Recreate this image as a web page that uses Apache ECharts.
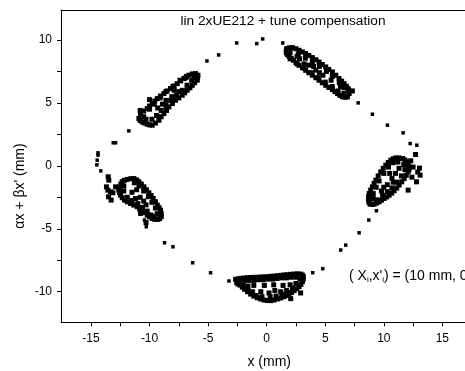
<!DOCTYPE html>
<html>
<head>
<meta charset="utf-8">
<script src="https://cdn.jsdelivr.net/npm/echarts@6/dist/echarts.min.js"></script>
<style>html,body{margin:0;padding:0;background:#fff;overflow:hidden}#c{width:465px;height:371px}</style>
</head>
<body>
<div id="c"></div>
<script>
// ---- data ----
const xMajorTicks = [-15, -10, -5, 0, 5, 10, 15];
const xMinorTicks = [-12.5, -7.5, -2.5, 2.5, 7.5, 12.5];
const yMajorTicks = [-10, -5, 0, 5, 10];
const yMinorTicks = [-7.5, -2.5, 2.5, 7.5];

const sparsePoints = [
  [-2.56,9.76],[-0.85,9.71],[-0.34,10.08],[1.37,9.76],[-4.10,8.81],[-5.10,8.33],
  [-11.77,2.78],[-13.1,1.83],[-12.9,1.83],[-14.4,1.03],[-14.4,0.85],[-14.47,0.45],
  [-14.5,0.08],[-14.16,-0.40],[7.81,5.0],[9.03,4.1],[10.31,3.23],[11.65,2.62],
  [12.25,1.77],[12.82,1.64],[9.37,-3.57],[8.72,-4.31],[7.89,-5.32],[6.75,-6.30],
  [6.32,-6.69],[4.79,-8.17],[3.93,-8.49],[-3.22,-9.15],[-4.79,-8.49],[-6.32,-7.70],
  [-8.0,-6.43],[-8.72,-6.11],[-10.28,-4.84],[-10.43,-4.31]
];

const islandNW = [
  [-10.91,3.76],[-10.77,4.15],[-10.20,4.55],[-9.77,4.95],[-9.34,5.34],[-8.77,5.74],
  [-8.21,6.14],[-7.64,6.53],[-7.07,6.93],[-6.64,7.20],[-6.07,7.33],[-5.87,7.20],
  [-5.93,6.80],[-6.35,6.40],[-6.78,6.01],[-7.21,5.61],[-7.78,5.21],[-8.35,4.68],
  [-8.77,4.15],[-9.20,3.62],[-9.77,3.23],[-10.20,3.31],[-10.63,3.49],
  [-10.5,4.35],[-10.0,4.75],[-9.55,5.15],[-9.05,5.55],[-8.5,5.95],[-7.9,6.35],[-7.35,6.75],
  [-6.85,7.1],[-6.35,7.3],[-5.9,7.0],[-6.15,6.6],[-6.55,6.2],[-7.0,5.8],[-7.5,5.4],
  [-8.05,4.95],[-8.55,4.4],[-9.0,3.9],[-9.5,3.4],[-10.0,3.25],[-10.45,3.4],[-10.8,3.6],
  [-10.3,3.7],[-9.8,3.7],[-9.4,4.0],[-9.0,4.4],[-8.6,4.8],[-8.2,5.2],[-7.7,5.6],
  [-7.2,6.0],[-6.8,6.4],[-6.4,6.8],[-6.2,7.0],
  [-10.5,3.9],[-10.0,4.5],[-9.6,4.9],[-9.1,5.4],[-8.6,5.9],[-8.0,6.3],[-7.4,6.8],[-6.9,7.0],
  [-8.6,5.2],[-8.1,5.5],[-7.5,5.9],[-8.9,4.9],[-9.3,4.6],[-10.0,5.26],[-10.8,4.4],[-7.9,6.0]
];

const islandNE = [
  [1.71,9.31],[2.19,9.39],[2.76,9.18],[3.33,8.92],[3.90,8.60],[4.47,8.25],[5.04,7.86],
  [5.61,7.46],[6.18,6.93],[6.61,6.53],[6.95,6.14],[7.04,5.74],[6.89,5.48],[6.47,5.48],
  [6.04,5.74],[5.61,6.06],[5.04,6.40],[4.47,6.80],[3.90,7.20],[3.33,7.59],[2.76,7.99],
  [2.28,8.39],[1.91,8.70],[1.68,8.97],
  [1.95,9.38],[2.5,9.3],[3.05,9.05],[3.6,8.77],[4.2,8.43],[4.75,8.05],[5.3,7.66],[5.9,7.2],
  [6.4,6.73],[6.8,6.33],[7.02,5.95],[6.7,5.45],[6.25,5.6],[5.83,5.9],[5.3,6.23],[4.75,6.6],
  [4.2,7.0],[3.6,7.4],[3.05,7.8],[2.5,8.2],[2.1,8.55],[1.78,8.84],[1.68,9.15],
  [2.0,9.0],[2.7,8.85],[3.3,8.55],[3.9,8.25],[4.5,7.9],[5.1,7.5],[5.6,7.1],[6.2,6.6],[6.6,6.2],
  [2.0,8.5],[2.6,8.1],[3.2,7.75],[3.8,7.4],[4.4,7.0],[5.0,6.65],[5.6,6.3],[6.1,5.95],[6.6,5.75],
  [2.8,8.5],[3.6,8.0],[4.2,7.6],[4.8,7.2],[3.2,8.1],[4.5,7.4],[5.5,6.8],[6.3,6.3],[4.0,7.9],[2.6,8.7],
  [7.32,5.95]
];

const islandW = [
  [-12.54,-1.67],[-12.34,-1.27],[-11.91,-1.08],[-11.34,-1.01],[-10.91,-1.27],[-10.48,-1.67],
  [-10.06,-2.14],[-9.69,-2.59],[-9.34,-3.12],[-9.06,-3.52],[-9.00,-4.05],[-9.34,-4.26],
  [-9.77,-4.18],[-10.20,-3.92],[-10.63,-3.52],[-11.05,-3.25],[-11.62,-2.99],[-12.14,-2.72],
  [-12.48,-2.33],[-12.62,-1.93],
  [-12.45,-1.45],[-12.15,-1.15],[-11.6,-1.02],[-11.1,-1.12],[-10.7,-1.45],[-10.27,-1.9],
  [-9.87,-2.36],[-9.5,-2.85],[-9.2,-3.32],[-9.0,-3.8],[-9.15,-4.2],[-9.55,-4.25],[-10.0,-4.05],
  [-10.4,-3.72],[-10.85,-3.38],[-11.35,-3.12],[-11.9,-2.86],[-12.33,-2.53],[-12.57,-2.12],[-12.6,-1.8],
  [-11.3,-1.35],[-10.9,-1.6],[-10.5,-2.0],[-10.1,-2.45],[-9.8,-2.9],[-9.5,-3.35],[-9.35,-3.8],[-9.6,-4.0],
  [-12.2,-1.6],[-12.2,-2.0],[-11.9,-2.5],[-11.5,-2.75],[-11.0,-3.0],[-10.6,-3.3],[-10.2,-3.6],[-9.9,-3.9],
  [-11.5,-2.1],[-11.1,-1.9],[-10.8,-2.5],[-11.2,-2.6],[-10.5,-2.8],[-10.3,-3.1],[-10.8,-3.5],
  [-13.53,-0.87],[-13.48,-1.14],[-13.68,-1.67],[-13.56,-1.93],[-13.33,-2.06],[-13.13,-2.14],
  [-13.5,-2.46],[-13.28,-2.72],[-12.9,-1.67],[-10.77,-3.78],[-10.3,-4.5]
];

const islandE = [
  [8.69,-2.72],[8.75,-2.20],[9.03,-1.67],[9.32,-1.14],[9.74,-0.48],[10.17,0.05],[10.60,0.45],
  [11.03,0.63],[11.60,0.58],[11.97,0.32],[12.17,-0.08],[12.08,-0.48],[11.74,-1.01],[11.31,-1.53],
  [10.88,-1.98],[10.46,-2.33],[10.03,-2.59],[9.60,-2.86],[9.17,-3.04],[8.83,-3.04],
  [8.7,-2.46],[8.88,-1.93],[9.17,-1.4],[9.52,-0.8],[9.95,-0.2],[10.38,0.27],[10.8,0.56],
  [11.3,0.63],[11.8,0.47],[12.08,0.12],[12.15,-0.28],[11.92,-0.75],[11.53,-1.27],[11.1,-1.76],
  [10.67,-2.17],[10.25,-2.47],[9.8,-2.73],[9.38,-2.96],[9.0,-3.06],[8.74,-2.9],
  [9.1,-2.6],[9.1,-2.2],[9.35,-1.7],[9.6,-1.2],[10.0,-0.6],[10.4,-0.1],[10.8,0.25],[11.2,0.3],
  [9.4,-2.7],[9.9,-2.35],[10.3,-2.05],[10.7,-1.75],[11.1,-1.3],[11.5,-0.8],[11.8,-0.3],[11.7,0.1],
  [10.3,-1.5],[10.7,-1.0],[11.0,-0.6],[10.5,-0.6],[10.0,-1.7],[10.8,-1.3],[9.8,-2.0],[11.3,-0.2],
  [12.71,0.9],[13.05,-0.18],[12.9,-0.5],[13.1,-0.74],[12.79,-1.27],[12.4,-0.9],[12.08,-1.93],
  [12.5,-0.1],[12.3,0.4]
];

const islandS = [
  [-2.65,-9.02],[-2.22,-8.94],[-1.65,-8.89],[-1.08,-8.86],[-0.51,-8.84],[0.06,-8.81],[0.63,-8.76],
  [1.20,-8.70],[1.77,-8.65],[2.34,-8.60],[2.91,-8.60],[3.13,-8.81],[3.05,-9.21],[2.76,-9.60],
  [2.34,-9.92],[1.91,-10.19],[1.48,-10.40],[0.91,-10.58],[0.34,-10.71],[-0.23,-10.66],
  [-0.80,-10.48],[-1.37,-10.19],[-1.88,-9.81],[-2.28,-9.47],[-2.56,-9.29],
  [-2.45,-8.98],[-1.93,-8.91],[-1.36,-8.87],[-0.8,-8.85],[-0.22,-8.82],[0.35,-8.78],[0.92,-8.73],
  [1.49,-8.67],[2.05,-8.62],[2.62,-8.58],[3.05,-8.68],[3.12,-9.0],[2.92,-9.42],[2.57,-9.77],
  [2.12,-10.06],[1.7,-10.3],[1.2,-10.5],[0.62,-10.66],[0.05,-10.7],[-0.52,-10.58],[-1.1,-10.35],
  [-1.63,-10.0],[-2.08,-9.64],[-2.44,-9.38],
  [-2.3,-9.15],[-1.9,-9.1],[-1.5,-9.1],[-1.1,-9.1],[-0.7,-9.05],[-0.3,-9.05],[0.1,-9.0],
  [0.5,-9.0],[0.9,-8.95],[1.3,-8.9],[1.7,-8.9],[2.1,-8.85],[2.5,-8.85],[2.85,-9.0],
  [-2.0,-9.5],[-1.6,-9.55],[-1.1,-9.5],[-0.2,-9.5],[0.6,-9.45],[1.4,-9.5],[2.0,-9.45],[2.5,-9.35],
  [-1.6,-9.9],[-1.2,-10.0],[-0.5,-10.0],[0.2,-10.1],[0.7,-9.9],[1.2,-10.0],[1.7,-9.9],[2.2,-9.7],
  [-0.9,-10.3],[-0.4,-10.4],[0.3,-10.4],[0.8,-10.35],[1.3,-10.2],
  [2.05,-10.55],[2.9,-10.1]
];

const titleText = 'lin 2xUE212 + tune compensation';
const xName = 'x (mm)';
const yName = 'αx + βx\' (mm)';

// ---- chart ----
const FONT = 'Liberation Sans, Arial, sans-serif';
const X_MIN = -17.56, X_MAX = 18, Y_MIN = -12.43, Y_MAX = 12.38;
const xAllTicks = xMajorTicks.concat(xMinorTicks).sort((a, b) => a - b);
const yAllTicks = yMajorTicks.concat(yMinorTicks).sort((a, b) => a - b);
const chart = echarts.init(document.getElementById('c'), null, {renderer: 'canvas'});
const ptSeries = (data, size) => ({
  type: 'scatter', data: data, symbol: 'rect', symbolSize: size, clip: false,
  itemStyle: {color: '#000', opacity: 1}, silent: true, animation: false
});
chart.setOption({
  animation: false,
  title: {show: false},
  grid: {left: 61, top: 10, width: 416.5, height: 312.3, show: false, outerBoundsMode: 'none', containLabel: false},
  xAxis: [
    {type: 'value', min: X_MIN, max: X_MAX, position: 'bottom', splitLine: {show: false},
      axisLine: {show: true, onZero: false, lineStyle: {color: '#000', width: 1}},
      axisTick: {show: true, customValues: xAllTicks, length: 4, lineStyle: {color: '#000'}},
      axisLabel: {customValues: xMajorTicks, color: '#000', fontSize: 12, fontFamily: FONT, margin: 10},
      name: xName, nameLocation: 'middle', nameGap: 33,
      nameTextStyle: {color: '#000', fontSize: 14, fontFamily: FONT}},
    {type: 'value', min: X_MIN, max: X_MAX, position: 'top', splitLine: {show: false},
      axisLine: {show: true, onZero: false, lineStyle: {color: '#000', width: 1}},
      axisTick: {show: false}, axisLabel: {show: false}}
  ],
  yAxis: [
    {type: 'value', min: Y_MIN, max: Y_MAX, position: 'left', splitLine: {show: false},
      axisLine: {show: true, onZero: false, lineStyle: {color: '#000', width: 1}},
      axisTick: {show: true, customValues: yAllTicks, length: 4, lineStyle: {color: '#000'}},
      axisLabel: {customValues: yMajorTicks, color: '#000', fontSize: 12, fontFamily: FONT, margin: 9}}
  ],
  series: [
    ptSeries(sparsePoints, 3.5),
    ptSeries(islandNW, 5),
    ptSeries(islandNE, 5),
    ptSeries(islandW, 5),
    ptSeries(islandE, 5),
    ptSeries(islandS, 5)
  ],
  graphic: [
    {type: 'text', x: 283, y: 21, z: 10, style: {text: titleText, fill: '#000', font: '13.7px ' + FONT, align: 'center', verticalAlign: 'middle'}},
    {type: 'text', x: 20, y: 186, rotation: Math.PI / 2, z: 10, style: {text: yName, fill: '#000', font: '14px ' + FONT, align: 'center', verticalAlign: 'middle'}},
    {type: 'text', x: 349, y: 276, z: 10, style: {
      text: '( X{s|i},x\'{s|i}) = (10 mm, 0', fill: '#000', font: '14px ' + FONT, align: 'left', verticalAlign: 'middle',
      rich: {s: {fontSize: 8, fontFamily: FONT, fill: '#000', verticalAlign: 'bottom', padding: [8, 0, 0, 0]}}
    }}
  ]
});
</script>
</body>
</html>
